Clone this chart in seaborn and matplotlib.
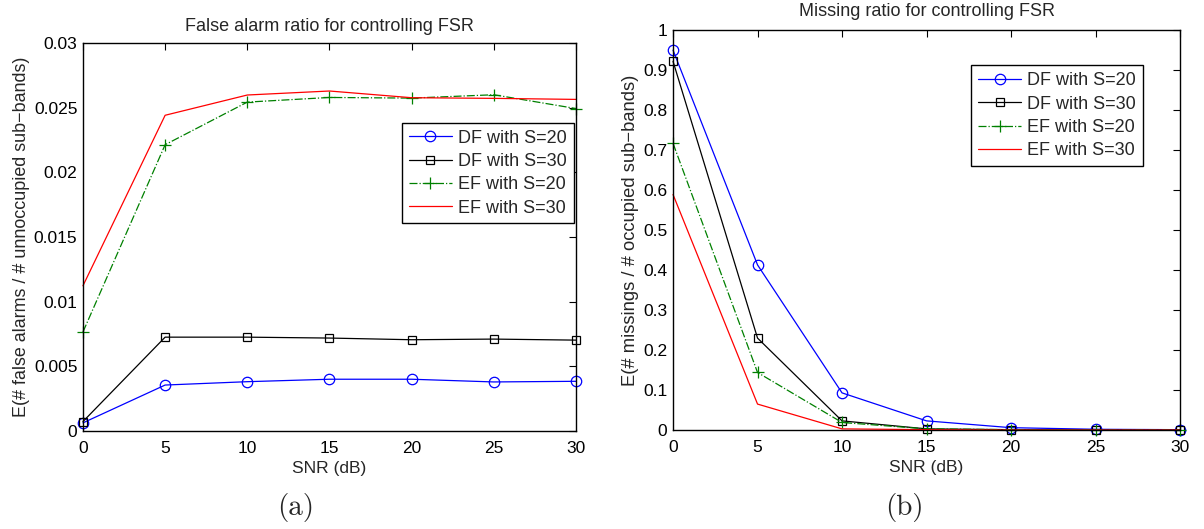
import matplotlib
matplotlib.use("Agg")
import matplotlib.pyplot as plt
import seaborn as sns
import pandas as pd

# ---- data ----
snr = [0, 5, 10, 15, 20, 25, 30]
series_names = ["DF with S=20", "DF with S=30", "EF with S=20", "EF with S=30"]

fa_df20 = [0.0006, 0.00353, 0.00379, 0.00398, 0.00398, 0.00377, 0.00382]
fa_df30 = [0.0007, 0.00724, 0.00724, 0.00717, 0.00704, 0.00709, 0.00701]
fa_ef20 = [0.00764, 0.02215, 0.02545, 0.02581, 0.02576, 0.02602, 0.02495]
fa_ef30 = [0.01122, 0.02443, 0.02600, 0.02631, 0.02579, 0.02574, 0.02566]

ms_df20 = [0.950, 0.413, 0.093, 0.023, 0.006, 0.002, 0.001]
ms_df30 = [0.922, 0.230, 0.023, 0.003, 0.001, 0.000, 0.000]
ms_ef20 = [0.717, 0.144, 0.019, 0.003, 0.001, 0.000, 0.000]
ms_ef30 = [0.589, 0.065, 0.003, 0.001, 0.000, 0.000, 0.000]

left_yticks = [0, 0.005, 0.01, 0.015, 0.02, 0.025, 0.03]
left_yticklabels = ["0", "0.005", "0.01", "0.015", "0.02", "0.025", "0.03"]
right_yticks = [0, 0.1, 0.2, 0.3, 0.4, 0.5, 0.6, 0.7, 0.8, 0.9, 1.0]
right_yticklabels = ["0", "0.1", "0.2", "0.3", "0.4", "0.5", "0.6", "0.7", "0.8", "0.9", "1"]
xticks = [0, 5, 10, 15, 20, 25, 30]

left_title = "False alarm ratio for controlling FSR"
right_title = "Missing ratio for controlling FSR"
left_ylabel = "E(# false alarms / # unnoccupied sub\u2212bands)"
right_ylabel = "E(# missings / # occupied sub\u2212bands)"
xlabel = "SNR (dB)"
captions = ["(a)", "(b)"]

# ---- style ----
sns.set_style("white")
plt.rcParams["font.family"] = ["Liberation Sans", "DejaVu Sans"]

styles = [
    dict(color="#0000ff", marker="o", linestyle="-", markersize=7.5),
    dict(color="#000000", marker="s", linestyle="-", markersize=6),
    dict(color="#008000", marker="+", linestyle="-.", markersize=8),
    dict(color="#ff0000", marker=None, linestyle="-", markersize=6),
]

fig = plt.figure(figsize=(12.04, 5.29), dpi=100)
axL = fig.add_axes([0.0689, 0.186, 0.4095, 0.732])
axR = fig.add_axes([0.559, 0.187, 0.4211, 0.756])


def draw(ax, ys, yticks, yticklabels, ylim, title, ylabel, title_pad, legend_anchor,
         ylabel_size):
    for name, y, st in zip(series_names, ys, styles):
        df = pd.DataFrame({"snr": snr, "val": y})
        kw = dict(color=st["color"], linestyle=st["linestyle"], linewidth=0.9,
                  label=name, clip_on=False)
        if st["marker"] is not None:
            kw.update(marker=st["marker"], markersize=st["markersize"],
                      markerfacecolor="none", markeredgecolor=st["color"],
                      markeredgewidth=0.9)
        sns.lineplot(data=df, x="snr", y="val", ax=ax, **kw)
    ax.set_xlim(0, 30)
    ax.set_ylim(*ylim)
    ax.set_xticks(xticks)
    ax.set_xticklabels([str(v) for v in xticks])
    ax.set_yticks(yticks)
    ax.set_yticklabels(yticklabels)
    ax.tick_params(direction="in", top=True, right=True, length=5, width=0.8,
                   labelsize=12.5, colors="black", pad=4)
    ax.tick_params(axis="x", pad=7.5)
    for sp in ax.spines.values():
        sp.set_visible(True)
        sp.set_color("black")
        sp.set_linewidth(1.0)
    ax.set_xlabel(xlabel, fontsize=12.5, labelpad=3.5)
    ax.set_ylabel(ylabel, fontsize=ylabel_size, labelpad=3)
    ax.set_title(title, fontsize=13, pad=title_pad)
    leg = ax.legend(loc="upper right", bbox_to_anchor=legend_anchor, fontsize=13,
                    frameon=True, fancybox=False, shadow=False, framealpha=1,
                    edgecolor="black", handlelength=2.4, borderpad=0.38,
                    labelspacing=0.35, handletextpad=0.33, borderaxespad=0)
    leg.get_frame().set_linewidth(1.0)


draw(axL, [fa_df20, fa_df30, fa_ef20, fa_ef30], left_yticks, left_yticklabels,
     (0, 0.03), left_title, left_ylabel, 8.7, (0.995, 0.795), 12.9)
draw(axR, [ms_df20, ms_df30, ms_ef20, ms_ef30], right_yticks, right_yticklabels,
     (0, 1.0), right_title, right_ylabel, 10.5, (0.927, 0.912), 13.2)

fig.text(296 / 1204, 1 - 508 / 529, captions[0], ha="center", va="center",
         fontsize=21, family="cmr10")
fig.text(904 / 1204, 1 - 508 / 529, captions[1], ha="center", va="center",
         fontsize=21, family="cmr10")

fig.savefig("out.png", dpi=100, facecolor="white")
